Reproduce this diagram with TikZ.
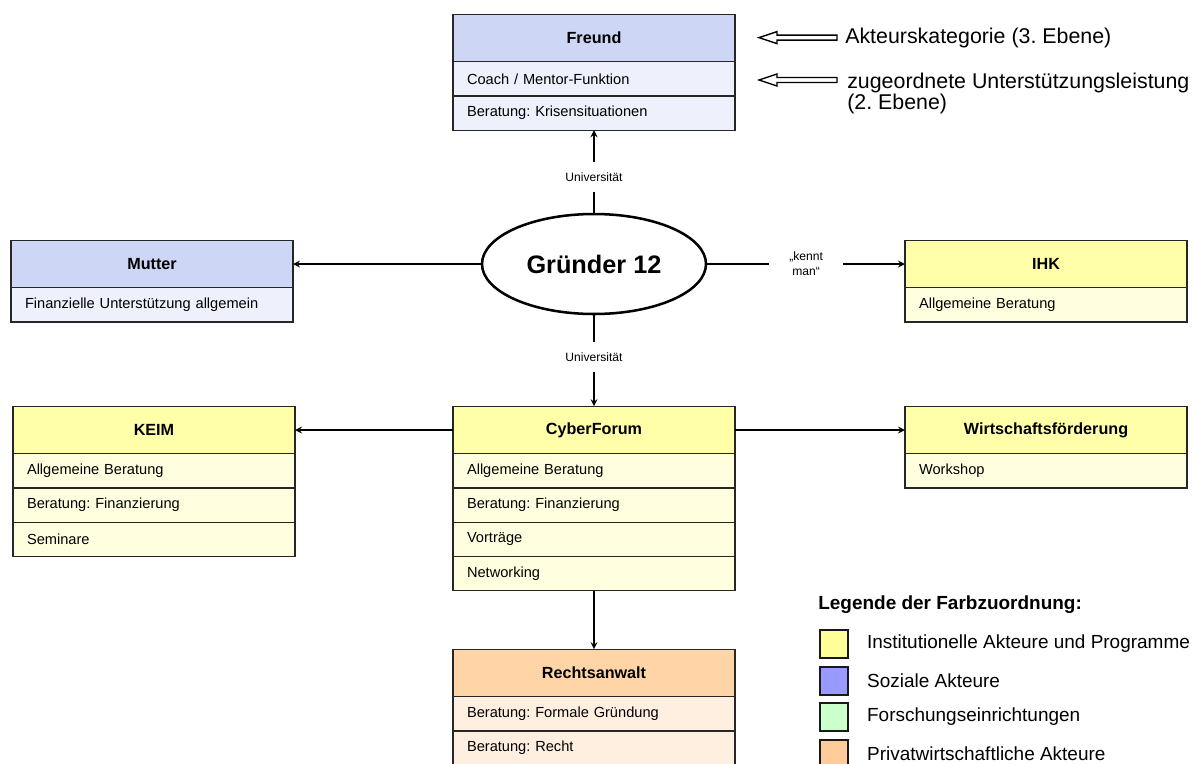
\documentclass[tikz,border=0pt]{standalone}
\usepackage{fontspec}
\setmainfont{Liberation Sans}
\usepackage{tikz}
\usetikzlibrary{shapes.geometric, arrows, positioning, calc}
\frenchspacing

\definecolor{sozialkopf}{RGB}{205,214,245}
\definecolor{sozialzeile}{RGB}{238,240,252}
\definecolor{instkopf}{RGB}{255,255,170}
\definecolor{instzeile}{RGB}{255,255,224}
\definecolor{privkopf}{RGB}{255,213,168}
\definecolor{privzeile}{RGB}{255,239,225}
\definecolor{leggelb}{RGB}{255,255,153}
\definecolor{legblau}{RGB}{153,153,255}
\definecolor{leggruen}{RGB}{204,255,204}
\definecolor{legorange}{RGB}{255,204,153}

\tikzstyle{kopf} = [rectangle, minimum width=7.05cm, minimum height=1.19cm, outer sep=0pt, text centered, draw=black!85, line width=0.9pt, font=\fontsize{11.5}{13}\selectfont\bfseries]
\tikzstyle{zeile} = [rectangle, minimum width=7.05cm, minimum height=0.855cm, outer sep=0pt, text width=6.35cm, align=left, inner xsep=0.35cm, draw=black!85, line width=0.9pt, font=\fontsize{10.4}{12}\selectfont]
\tikzstyle{akteur} = [ellipse, draw=black, line width=1.8pt, minimum width=5.6cm, minimum height=2.5cm, inner sep=0pt, font=\fontsize{18}{20}\selectfont\bfseries]
\tikzstyle{arrow} = [line width=1.2pt,->,>=stealth]
\tikzstyle{kante} = [fill=white, inner sep=0pt, minimum height=0.75cm, font=\fontsize{8.6}{10.5}\selectfont]
\tikzstyle{hohlpfeil} = [draw=black, line width=1pt, line join=miter]
\tikzstyle{hinweis} = [inner sep=0pt, anchor=west, font=\fontsize{15.2}{15}\selectfont]
\tikzstyle{legfeld} = [rectangle, draw=black!90, line width=1.2pt, minimum size=0.7cm, inner sep=0pt]
\tikzstyle{legtext} = [inner sep=0pt, font=\fontsize{13.5}{15}\selectfont]

\begin{document}
\begin{tikzpicture}
    \useasboundingbox (0,0) rectangle (29.875,-19.075);

    % Gruender
    \node (gr) [akteur] at (14.85,-6.6) {Gründer 12};

    % Freund
    \node (fr) [kopf, fill=sozialkopf] at (14.85,-0.95) {Freund};
    \node (fr1) [zeile, fill=sozialzeile, below=0pt of fr] {Coach / Mentor-Funktion};
    \node (fr2) [zeile, fill=sozialzeile, below=0pt of fr1] {Beratung: Krisensituationen};

    % Mutter
    \node (mu) [kopf, fill=sozialkopf] at (3.8,-6.6) {Mutter};
    \node (mu1) [zeile, fill=sozialzeile, below=0pt of mu] {Finanzielle Unterstützung allgemein};

    % IHK
    \node (ihk) [kopf, fill=instkopf] at (26.15,-6.6) {IHK};
    \node (ihk1) [zeile, fill=instzeile, below=0pt of ihk] {Allgemeine Beratung};

    % CyberForum
    \node (cf) [kopf, fill=instkopf] at (14.85,-10.75) {CyberForum};
    \node (cf1) [zeile, fill=instzeile, below=0pt of cf] {Allgemeine Beratung};
    \node (cf2) [zeile, fill=instzeile, below=0pt of cf1] {Beratung: Finanzierung};
    \node (cf3) [zeile, fill=instzeile, below=0pt of cf2] {Vorträge};
    \node (cf4) [zeile, fill=instzeile, below=0pt of cf3] {Networking};

    % KEIM
    \node (keim) [kopf, fill=instkopf] at (3.85,-10.75) {KEIM};
    \node (keim1) [zeile, fill=instzeile, below=0pt of keim] {Allgemeine Beratung};
    \node (keim2) [zeile, fill=instzeile, below=0pt of keim1] {Beratung: Finanzierung};
    \node (keim3) [zeile, fill=instzeile, below=0pt of keim2] {Seminare};

    % Wirtschaftsfoerderung
    \node (wf) [kopf, fill=instkopf] at (26.15,-10.75) {Wirtschaftsförderung};
    \node (wf1) [zeile, fill=instzeile, below=0pt of wf] {Workshop};

    % Rechtsanwalt
    \node (ra) [kopf, fill=privkopf] at (14.85,-16.825) {Rechtsanwalt};
    \node (ra1) [zeile, fill=privzeile, below=0pt of ra] {Beratung: Formale Gründung};
    \node (ra2) [zeile, fill=privzeile, below=0pt of ra1] {Beratung: Recht};

    % Arrows
    \draw [arrow] (gr) -- node [kante, pos=0.43] {Universität} (fr2);
    \draw [arrow] (gr) -- (mu);
    \draw [arrow] (gr) -- node [kante, minimum width=1.85cm, align=center] {„kennt\\man“} (ihk);
    \draw [arrow] (gr) -- node [kante, pos=0.46] {Universität} (cf);
    \draw [arrow] (cf) -- (keim);
    \draw [arrow] (cf) -- (wf);
    \draw [arrow] (cf4) -- (ra);

    % Hinweise
    \coordinate (pf1) at (20.925,-0.94);
    \coordinate (pf2) at (20.925,-2.0);
    \draw [hohlpfeil] ($(pf1)+(0,0.0625)$) -- ++(-1.5,0) -- ++(0,0.0875) -- ++(-0.45,-0.15) -- ++(0.45,-0.15) -- ++(0,0.0875) -- ++(1.5,0) -- cycle;
    \draw [hohlpfeil] ($(pf2)+(0,0.0625)$) -- ++(-1.5,0) -- ++(0,0.0875) -- ++(-0.45,-0.15) -- ++(0.45,-0.15) -- ++(0,0.0875) -- ++(1.5,0) -- cycle;
    \node (akt) [hinweis, right=0.2cm of pf1] {Akteurskategorie (3. Ebene)};
    \node (zug) [hinweis, align=left, anchor=north west] at (21.175,-1.82) {zugeordnete Unterstützungsleistung\\(2. Ebene)};

    % Legende
    \node (leg) [anchor=west, inner sep=0pt, font=\fontsize{13.5}{15}\selectfont\bfseries] at (20.45,-15.125) {Legende der Farbzuordnung:};
    \node (lg1) [legfeld, fill=leggelb] at (20.85,-16.1) {};
    \node (lt1) [legtext, right=0.45cm of lg1] {Institutionelle Akteure und Programme};
    \node (lg2) [legfeld, fill=legblau] at (20.85,-17.025) {};
    \node (lt2) [legtext, right=0.45cm of lg2] {Soziale Akteure};
    \node (lg3) [legfeld, fill=leggruen] at (20.85,-17.925) {};
    \node (lt3) [legtext, right=0.45cm of lg3] {Forschungseinrichtungen};
    \node (lg4) [legfeld, fill=legorange] at (20.85,-18.85) {};
    \node (lt4) [legtext, right=0.45cm of lg4] {Privatwirtschaftliche Akteure};
\end{tikzpicture}
\end{document}
